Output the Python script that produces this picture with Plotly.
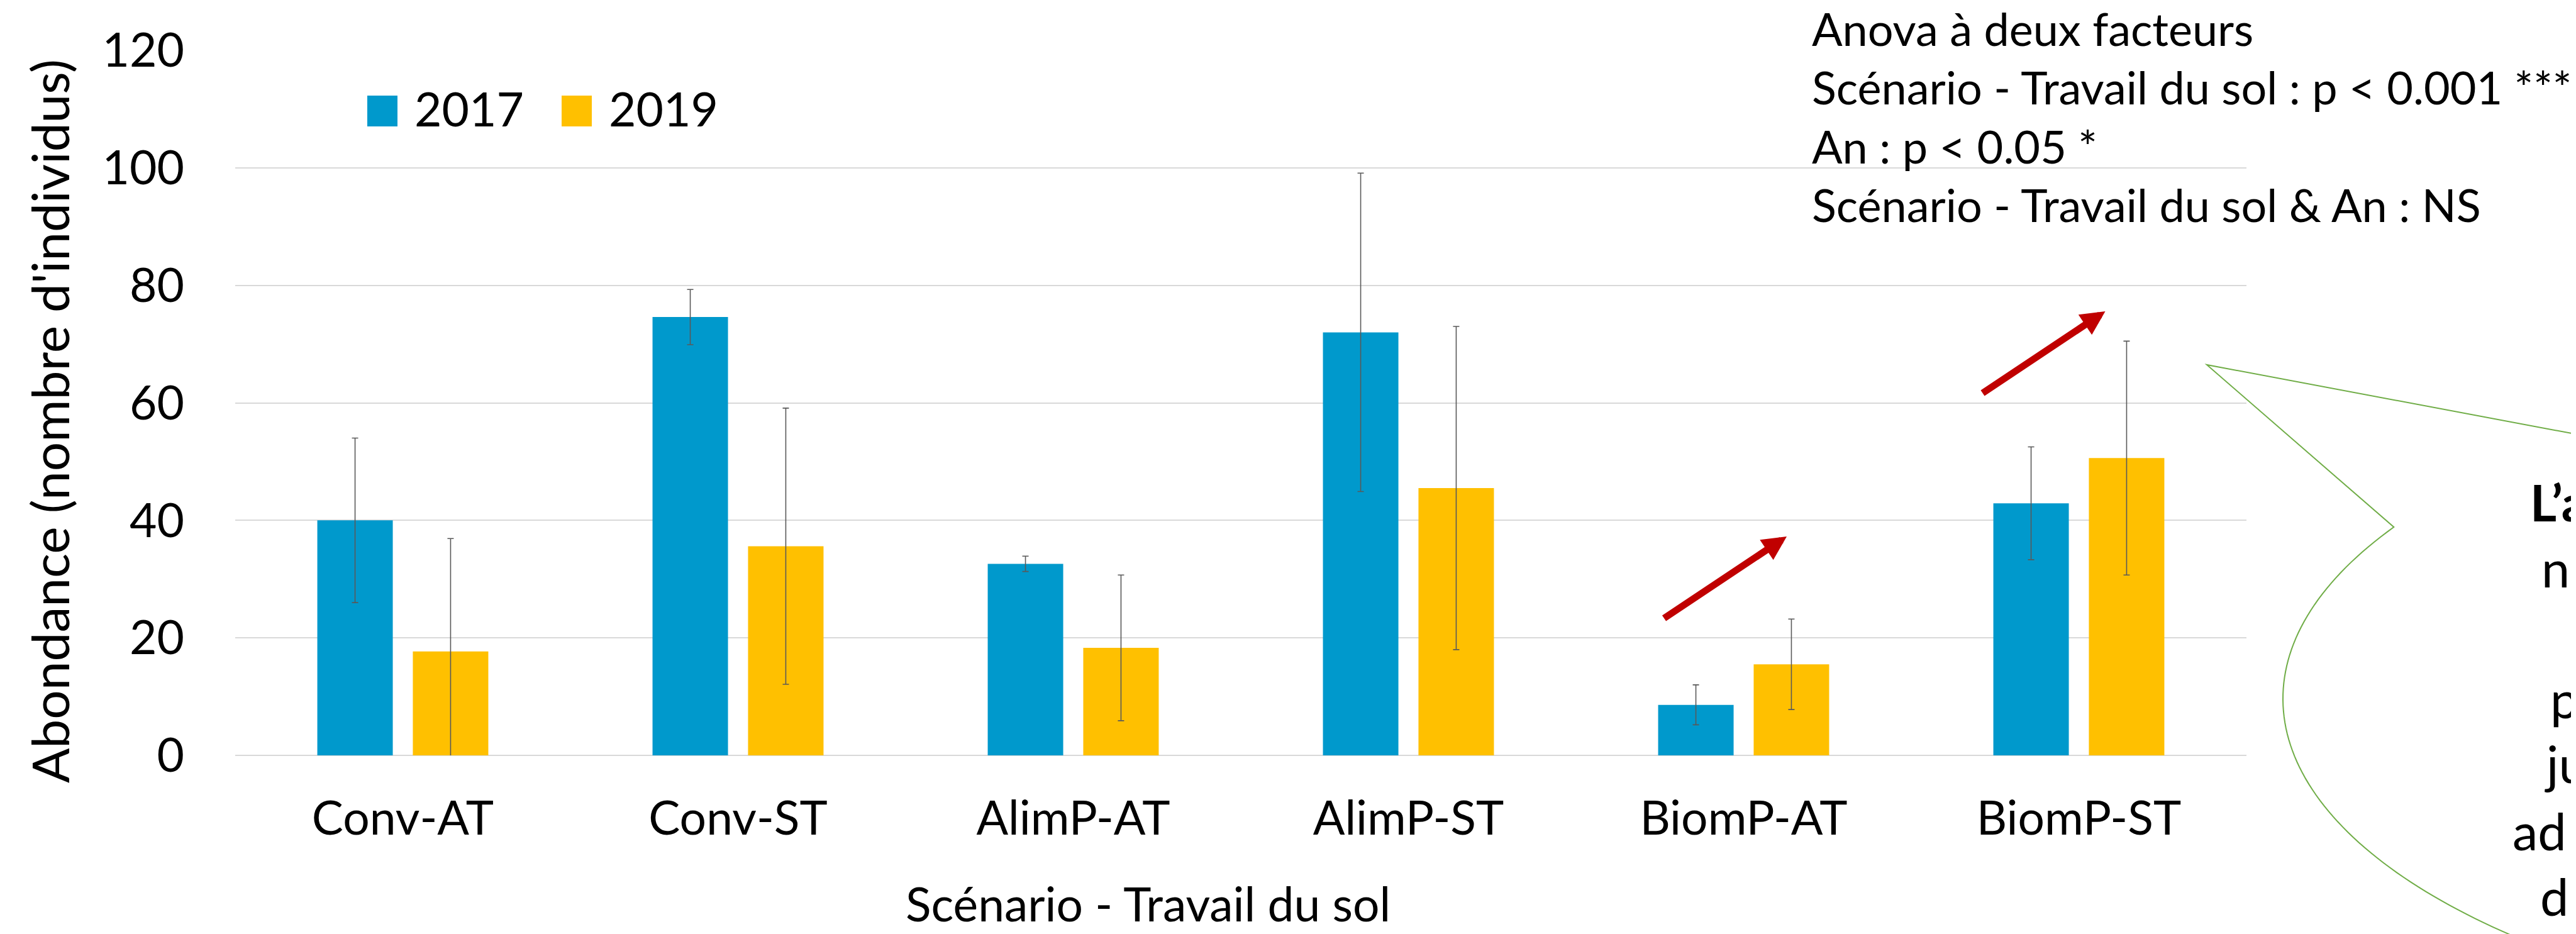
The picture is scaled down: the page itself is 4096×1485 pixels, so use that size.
import numpy as np
import plotly.graph_objects as go

# ---------------- data ----------------
categories = ["Conv-AT", "Conv-ST", "AlimP-AT", "AlimP-ST", "BiomP-AT", "BiomP-ST"]
series_names = ["2017", "2019"]
abund_2017 = [40.0, 74.6, 32.6, 72.0, 8.6, 42.9]
err_2017 = [14.0, 4.7, 1.3, 27.1, 3.4, 9.6]
abund_2019 = [17.7, 35.6, 18.3, 45.5, 15.5, 50.6]
err_2019 = [19.2, 23.5, 12.4, 27.5, 7.7, 19.9]
y_ticks = [0, 20, 40, 60, 80, 100, 120]
anova_lines = [
    "Anova à deux facteurs",
    "Scénario - Travail du sol : p < 0.001 ***",
    "An : p < 0.05 *",
    "Scénario - Travail du sol & An : NS",
]
callout_fragments = ["<b>L’a</b>", "n", "p", "ju", "ad", "d"]
y_title = "Abondance (nombre d'individus)"
x_title = "Scénario - Travail du sol"

# ---------------- layout helpers (window pixels -> paper) ----------------
W, H = 4096, 1485
ML, MR, MT, MB = 366, 532, 72, 292
PW = W - ML - MR
PH = H - MT - MB


def px(x):
    return (x - ML) / PW


def py(y):
    return (H - MB - y) / PH


FONT = "Lato"
BLUE = "#0099CC"
YELLOW = "#FFC000"
ERRC = "#595959"

fig = go.Figure()
fig.add_bar(
    x=categories, y=abund_2017, name=series_names[0], marker_color=BLUE,
    marker_line_width=0, showlegend=False,
    error_y=dict(type="data", array=err_2017, color=ERRC, thickness=1.6, width=5),
)
fig.add_bar(
    x=categories, y=abund_2019, name=series_names[1], marker_color=YELLOW,
    marker_line_width=0, showlegend=False,
    error_y=dict(type="data", array=err_2019, color=ERRC, thickness=1.6, width=5),
)

fig.update_layout(
    width=W, height=H, autosize=False,
    margin=dict(l=ML, r=MR, t=MT, b=MB, pad=0),
    paper_bgcolor="white", plot_bgcolor="white",
    barmode="group", bargap=0.43, bargroupgap=0.21,
    font=dict(family=FONT, color="black", size=75),
    showlegend=False,
)
fig.update_yaxes(
    range=[0, 120], tickvals=y_ticks, showgrid=True, gridcolor="#D9D9D9",
    gridwidth=2, zeroline=True, zerolinecolor="#D9D9D9", zerolinewidth=2,
    showline=False, ticks="", tickfont=dict(family=FONT, size=75, color="black"),
    ticklabelstandoff=80, fixedrange=True,
)
fig.update_xaxes(
    showgrid=False, showline=False, zeroline=False, ticks="",
    tickfont=dict(family=FONT, size=75, color="black"), ticklabelstandoff=50,
)

shapes = []
annotations = []

# manual legend with large swatches
for (x0, col, name) in [(576, BLUE, series_names[0]), (885, YELLOW, series_names[1])]:
    shapes.append(dict(type="rect", xref="paper", yref="paper",
                       x0=px(x0), x1=px(x0 + 48), y0=py(193), y1=py(144),
                       fillcolor=col, line=dict(width=0)))
    annotations.append(dict(text=name, xref="paper", yref="paper", x=px(x0 + 73),
                            y=py(164), xanchor="left", yanchor="middle", showarrow=False,
                            font=dict(family=FONT, size=75, color="black")))

# axis titles
annotations.append(dict(text=y_title, xref="paper", yref="paper", x=px(70), y=py(662),
                        textangle=-90, xanchor="center", yanchor="middle", showarrow=False,
                        font=dict(family=FONT, size=82, color="black")))
annotations.append(dict(text=x_title, xref="paper", yref="paper", x=px(1430), y=py(1428),
                        xanchor="left", yanchor="middle", showarrow=False,
                        font=dict(family=FONT, size=75, color="black")))

# anova text
for line, ymid in zip(anova_lines, [37, 130, 223.5, 317]):
    annotations.append(dict(text=line, xref="paper", yref="paper", x=px(2871), y=py(ymid),
                            xanchor="left", yanchor="middle", showarrow=False,
                            font=dict(family=FONT, size=72, color="black")))

# red arrows
for tip in [(2833, 845), (3339.5, 487)]:
    annotations.append(dict(text="", xref="paper", yref="paper", x=px(tip[0]), y=py(tip[1]),
                            axref="pixel", ayref="pixel", ax=-196.5, ay=131,
                            showarrow=True, arrowhead=2, arrowsize=0.7, arrowwidth=11,
                            arrowcolor="#C00000", standoff=0, startstandoff=0))

# green speech bubble (elliptical callout)
cx, cy, rx, ry = 4892, 1103, 1270, 537
tip = (3501, 572)
far = (4150, 694)
t = np.radians(np.linspace(210.55, 125, 90))
ex = cx + rx * np.cos(t)
ey = cy + ry * np.sin(t)
path = f"M{px(far[0])},{py(far[1])} L{px(tip[0])},{py(tip[1])}"
for a, b in zip(ex, ey):
    path += f" L{px(a)},{py(b)}"
shapes.append(dict(type="path", xref="paper", yref="paper", path=path,
                   line=dict(color="#70AD47", width=2), fillcolor="rgba(0,0,0,0)"))

# callout text (cut by the figure edge)
for frag, x0, ymid in zip(callout_fragments,
                          [4013, 4031, 4045, 4036, 3985, 4029],
                          [789, 894, 1102, 1205, 1312, 1416]):
    annotations.append(dict(text=frag, xref="paper", yref="paper", x=px(x0), y=py(ymid),
                            xanchor="left", yanchor="middle", showarrow=False,
                            font=dict(family=FONT, size=81, color="black")))

fig.update_layout(shapes=shapes, annotations=annotations)
fig.write_html("out.html")
